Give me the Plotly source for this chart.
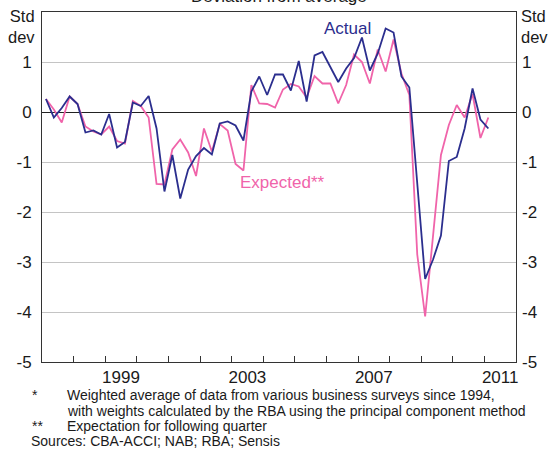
import plotly.graph_objects as go

# Quarterly observations, 1997:Q1 to 2011:Q1 (standard deviations from average)
start_year = 1997
actual = [0.26, -0.11, 0.08, 0.31, 0.16, -0.41, -0.37, -0.45, -0.04, -0.71,
          -0.60, 0.19, 0.12, 0.32, -0.33, -1.59, -0.86, -1.73, -1.15, -0.88,
          -0.72, -0.85, -0.23, -0.19, -0.27, -0.57, 0.41, 0.71, 0.34, 0.75,
          0.75, 0.43, 1.02, 0.21, 1.13, 1.20, 0.90, 0.60, 0.87, 1.08,
          1.49, 0.83, 1.17, 1.67, 1.59, 0.71, 0.49, -1.43, -3.34, -2.95,
          -2.47, -0.98, -0.90, -0.33, 0.47, -0.15, -0.33]
expected = [0.26, 0.05, -0.21, 0.31, 0.16, -0.29, -0.39, -0.45, -0.29, -0.58,
            -0.63, 0.22, 0.12, -0.11, -1.44, -1.45, -0.75, -0.55, -0.81, -1.28,
            -0.33, -0.79, -0.24, -0.37, -1.04, -1.17, 0.54, 0.17, 0.16, 0.09,
            0.45, 0.56, 0.51, 0.29, 0.72, 0.57, 0.57, 0.17, 0.54, 1.15,
            1.00, 0.57, 1.25, 0.81, 1.45, 0.77, 0.34, -2.85, -4.09, -2.50,
            -0.86, -0.26, 0.14, -0.11, 0.36, -0.52, -0.11]

# Each quarter is plotted at its midpoint
quarters = [start_year + (i + 0.5) / 4 for i in range(len(actual))]

year_ticks = list(range(1998, 2012))
year_label_pos = [1999.5, 2003.5, 2007.5, 2011.5]
year_labels = ["1999", "2003", "2007", "2011"]
y_ticks = [-5, -4, -3, -2, -1, 0, 1]
y_labels = ["-5", "-4", "-3", "-2", "-1", "0", "1"]

NAVY = "#2b2e8e"
PINK = "#f064aa"
TXT = "#1a1a1a"
FONT = "Liberation Sans, Arial, sans-serif"

fig = go.Figure()
fig.add_trace(go.Scatter(x=quarters, y=expected, mode="lines",
                         line=dict(color=PINK, width=1.8), showlegend=False))
fig.add_trace(go.Scatter(x=quarters, y=actual, mode="lines",
                         line=dict(color=NAVY, width=1.8), showlegend=False))
# empty trace so the right-hand axis is drawn
fig.add_trace(go.Scatter(x=[], y=[], yaxis="y2", showlegend=False))

axis_font = dict(family=FONT, size=17, color=TXT)

fig.update_layout(
    width=550, height=450,
    margin=dict(l=42, r=34, t=12, b=88),
    paper_bgcolor="white", plot_bgcolor="white",
    font=dict(family=FONT, color=TXT),
    xaxis=dict(
        range=[1997, 2012], tickmode="array", tickvals=year_label_pos,
        ticktext=year_labels, ticks="", showgrid=False, zeroline=False,
        showline=True, linecolor="#333333", linewidth=1, mirror=True,
        tickfont=axis_font, ticklabelstandoff=0,
        minor=dict(tickmode="array", tickvals=year_ticks, ticks="inside",
                   ticklen=6, tickcolor="#333333", tickwidth=1, showgrid=False),
    ),
    yaxis=dict(
        range=[-5, 2], tickmode="array", tickvals=y_ticks, ticktext=y_labels,
        ticks="", showgrid=True, gridcolor="#c4c4c4", gridwidth=1,
        zeroline=True, zerolinecolor="#222222", zerolinewidth=1,
        showline=True, linecolor="#333333", linewidth=1, mirror=True,
        tickfont=axis_font, ticklabelstandoff=6,
    ),
    yaxis2=dict(
        range=[-5, 2], overlaying="y", side="right", tickmode="array",
        tickvals=y_ticks, ticktext=y_labels, ticks="", showgrid=False,
        zeroline=False, showline=False, tickfont=axis_font,
        ticklabelstandoff=5,
    ),
)

W = 474.0  # plot width in px
H = 350.0  # plot height in px


def px_x(p):
    return (p - 42.0) / W


def px_y(p):
    return 1 - (p - 12.0) / H


annotations = [
    # chart title, partly above the visible page
    dict(text="Deviation from average", x=0.5, y=px_y(-3), xref="paper",
         yref="paper", xanchor="center", yanchor="middle", showarrow=False,
         font=dict(family=FONT, size=17, color=TXT)),
    # unit labels
    dict(text="Std<br>dev", x=px_x(37), y=px_y(27), xref="paper", yref="paper",
         xanchor="right", yanchor="middle", align="right", showarrow=False,
         font=dict(family=FONT, size=16.5, color=TXT)),
    dict(text="Std<br>dev", x=px_x(519), y=px_y(27), xref="paper", yref="paper",
         xanchor="left", yanchor="middle", align="left", showarrow=False,
         font=dict(family=FONT, size=16.5, color=TXT)),
    # series labels
    dict(text="Actual", x=2006.68, y=1.67, xref="x", yref="y",
         xanchor="center", yanchor="middle", showarrow=False,
         font=dict(family=FONT, size=17, color=NAVY)),
    dict(text="Expected**", x=2004.61, y=-1.41, xref="x", yref="y",
         xanchor="center", yanchor="middle", showarrow=False,
         font=dict(family=FONT, size=17, color=PINK)),
]

NOTE_SIZE = 14
notes = [
    ("*", "Weighted average of data from various business surveys since 1994,", 395),
    ("", "with weights calculated by the RBA using the principal component method", 411),
    ("**", "Expectation for following quarter", 426),
]
for mark, text, ypx in notes:
    if mark:
        annotations.append(dict(text=mark, x=px_x(30), y=px_y(ypx), xref="paper",
                                yref="paper", xanchor="left", yanchor="middle",
                                showarrow=False,
                                font=dict(family=FONT, size=NOTE_SIZE, color=TXT)))
    annotations.append(dict(text=text, x=px_x(65), y=px_y(ypx), xref="paper",
                            yref="paper", xanchor="left", yanchor="middle",
                            showarrow=False,
                            font=dict(family=FONT, size=NOTE_SIZE, color=TXT)))
annotations.append(dict(text="Sources: CBA-ACCI; NAB; RBA; Sensis", x=px_x(29),
                        y=px_y(441), xref="paper", yref="paper", xanchor="left",
                        yanchor="middle", showarrow=False,
                        font=dict(family=FONT, size=NOTE_SIZE, color=TXT)))

fig.update_layout(annotations=annotations)

fig.write_html("out.html")
